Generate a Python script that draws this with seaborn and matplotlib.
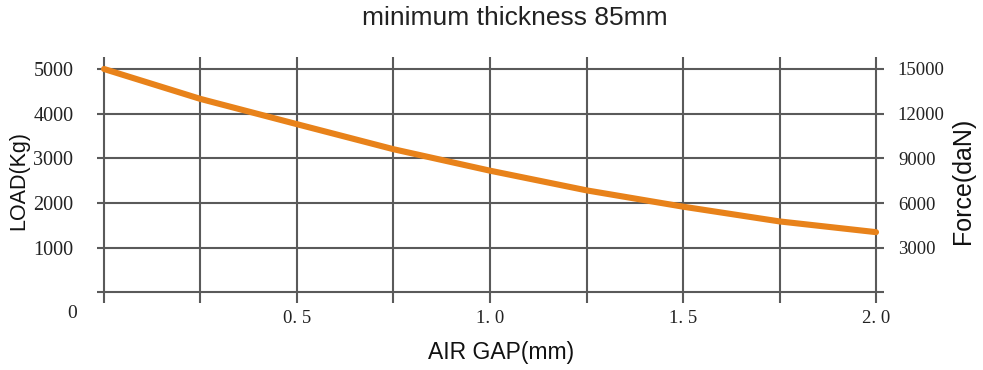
import numpy as np
import pandas as pd
import matplotlib
matplotlib.use("Agg")
import matplotlib.pyplot as plt
import seaborn as sns

# ---- data ----
air_gap = [0.0, 0.25, 0.5, 0.75, 1.0, 1.25, 1.5, 1.75, 2.0]
load_kg = [5000, 4330, 3765, 3205, 2725, 2285, 1920, 1590, 1350]
x_grid = [0.0, 0.25, 0.5, 0.75, 1.0, 1.25, 1.5, 1.75, 2.0]
x_tick_labels = ["", "", "0. 5", "", "1. 0", "", "1. 5", "", "2. 0"]
left_ticks = [0, 1000, 2000, 3000, 4000, 5000]
left_labels = ["", "1000", "2000", "3000", "4000", "5000"]
right_ticks = [3000, 6000, 9000, 12000, 15000]
right_labels = ["3000", "6000", "9000", "12000", "15000"]
origin_label = "0"
title = "minimum thickness 85mm"

df = pd.DataFrame({"gap": air_gap, "load": load_kg})

sns.set_theme(style="white")
plt.rcParams["font.family"] = ["Liberation Sans", "DejaVu Sans"]

fig = plt.figure(figsize=(9.83, 3.70), dpi=100)
ax = fig.add_axes([97 / 983, 1 - 303 / 370, 787 / 983, 246 / 370])

grid_color = "#5a5a5a"
text_color = "#222222"
serif = ["Liberation Serif", "DejaVu Serif"]

ax.set_xlim(-0.0181, 2.0207)
ax.set_ylim(-235, 5268)
for spine in ax.spines.values():
    spine.set_visible(False)

sns.lineplot(data=df, x="gap", y="load", ax=ax, color="#E8821A",
             linewidth=4.4, zorder=3)

ax.set_xticks(x_grid, labels=x_tick_labels)
ax.set_yticks(left_ticks, labels=left_labels)
ax.grid(True, color=grid_color, linewidth=1.5)
ax.set_axisbelow(True)
ax.tick_params(axis="x", length=0, pad=5)
ax.tick_params(axis="y", length=0, pad=17)
for lab in ax.get_xticklabels():
    lab.set_fontfamily(serif)
    lab.set_fontsize(13.5)
    lab.set_color(text_color)
for lab in ax.get_yticklabels():
    lab.set_fontfamily(serif)
    lab.set_fontsize(14.5)
    lab.set_color(text_color)
ax.set_xlabel("")
ax.set_ylabel("")

# right axis
ax2 = ax.twinx()
ax2.set_ylim(np.array(ax.get_ylim()) * 3)
for spine in ax2.spines.values():
    spine.set_visible(False)
ax2.set_yticks(right_ticks, labels=right_labels)
ax2.tick_params(axis="y", length=0, pad=10)
for lab in ax2.get_yticklabels():
    lab.set_fontfamily(serif)
    lab.set_fontsize(13.5)
    lab.set_color(text_color)
ax2.grid(False)

fig.text(72.5 / 983, 1 - 314 / 370, origin_label, ha="center", va="center",
         fontsize=14, family=serif, color=text_color)
fig.text(19 / 983, 1 - 180 / 370, "LOAD(Kg)", rotation=90, ha="center",
         va="center", fontsize=15.5, color="#111111")
fig.text(963 / 983, 1 - 181 / 370, "Force(daN)", rotation=90, ha="center",
         va="center", fontsize=18, color="#111111")
fig.text(501 / 983, 1 - 353 / 370, "AIR GAP(mm)", ha="center",
         va="center", fontsize=16.5, color="#111111")
fig.text(515 / 983, 1 - 18 / 370, title, ha="center", va="center",
         fontsize=19, color="#222222")

fig.savefig("out.png", dpi=100)
